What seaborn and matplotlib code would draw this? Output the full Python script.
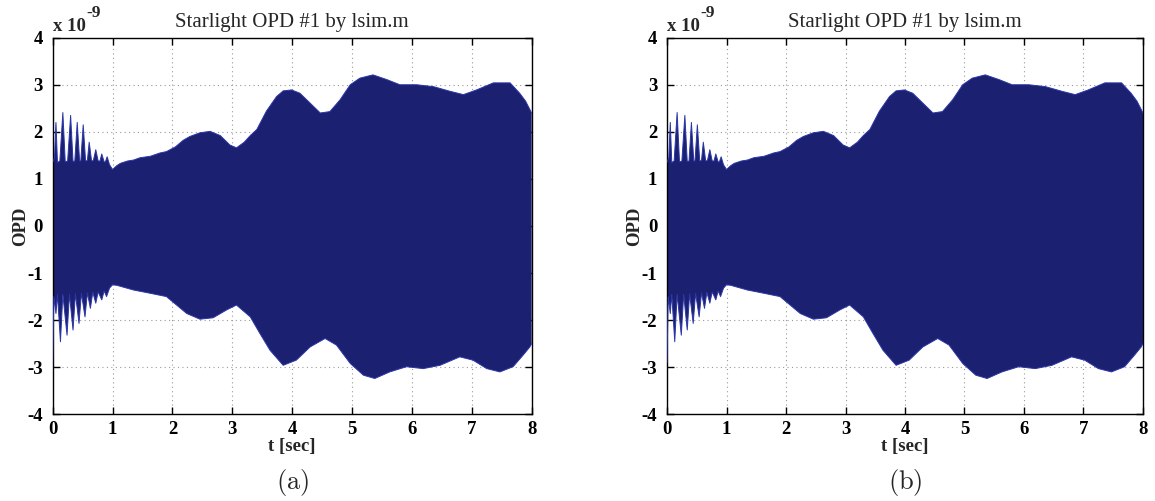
import numpy as np
import matplotlib
matplotlib.use("Agg")
import matplotlib.pyplot as plt
import seaborn as sns

# Envelope of the simulated starlight OPD response (units of 1e-9)
t_upper = [0.00, 0.03, 0.055, 0.08, 0.12, 0.17, 0.21, 0.25, 0.30, 0.34, 0.37, 0.41,
           0.45, 0.47, 0.51, 0.55, 0.58, 0.61, 0.65, 0.68, 0.72, 0.76, 0.79, 0.82,
           0.86, 0.88, 0.91, 0.95, 1.00, 1.07, 1.13, 1.25, 1.35, 1.46, 1.63, 1.79,
           1.90, 2.05, 2.18, 2.29, 2.46, 2.63, 2.80, 2.96, 3.07, 3.20, 3.30, 3.41,
           3.57, 3.74, 3.85, 3.99, 4.13, 4.30, 4.47, 4.63, 4.80, 4.97, 5.13, 5.35,
           5.58, 5.80, 6.08, 6.36, 6.64, 6.86, 7.08, 7.36, 7.64, 7.80, 7.90, 8.00]
opd_upper = [1.35, 1.45, 2.20, 1.35, 1.38, 2.41, 1.36, 1.38, 2.35, 1.37, 1.38, 2.20,
             1.38, 1.38, 2.15, 1.38, 1.39, 1.78, 1.38, 1.39, 1.62, 1.38, 1.38, 1.53,
             1.36, 1.36, 1.47, 1.30, 1.20, 1.28, 1.33, 1.38, 1.40, 1.45, 1.48, 1.55,
             1.58, 1.68, 1.82, 1.90, 1.98, 2.01, 1.92, 1.72, 1.66, 1.78, 1.92, 2.05,
             2.44, 2.75, 2.87, 2.89, 2.82, 2.61, 2.40, 2.43, 2.68, 3.00, 3.14, 3.21,
             3.11, 3.00, 3.00, 2.96, 2.86, 2.79, 2.89, 3.04, 3.04, 2.82, 2.65, 2.40]

t_lower = [0.00, 0.02, 0.055, 0.08, 0.13, 0.17, 0.24, 0.28, 0.34, 0.38, 0.44, 0.48,
           0.54, 0.58, 0.63, 0.67, 0.72, 0.76, 0.82, 0.86, 0.90, 0.95, 1.00, 1.07,
           1.35, 1.63, 1.90, 2.07, 2.24, 2.46, 2.68, 2.91, 3.07, 3.30, 3.46, 3.63,
           3.85, 4.07, 4.30, 4.55, 4.74, 4.97, 5.19, 5.38, 5.63, 5.91, 6.19, 6.47,
           6.80, 7.02, 7.25, 7.47, 7.69, 7.86, 7.97, 8.00]
opd_lower = [-2.90, -1.50, -1.86, -1.45, -2.46, -1.45, -2.32, -1.45, -2.21, -1.44, -2.07, -1.43,
             -1.93, -1.42, -1.75, -1.41, -1.64, -1.40, -1.57, -1.38, -1.50, -1.32, -1.25, -1.26,
             -1.36, -1.43, -1.50, -1.68, -1.86, -1.98, -1.95, -1.78, -1.68, -1.93, -2.28, -2.64,
             -2.96, -2.85, -2.57, -2.39, -2.53, -2.92, -3.17, -3.24, -3.10, -2.99, -3.03, -2.96,
             -2.78, -2.85, -3.03, -3.10, -2.99, -2.74, -2.57, -2.50]

x_ticks = [0, 1, 2, 3, 4, 5, 6, 7, 8]
y_ticks = [-4, -3, -2, -1, 0, 1, 2, 3, 4]
panel_labels = ["(a)", "(b)"]
title_text = "Starlight OPD #1 by lsim.m"

sns.set_theme(style="ticks")
plt.rcParams["font.family"] = ["Liberation Serif", "DejaVu Serif"]
plt.rcParams["mathtext.fontset"] = "cm"

fill_color = "#1c2070"
edge_color = "#2b36a8"

fig = plt.figure(figsize=(11.55, 5.01), dpi=100)
axes = [fig.add_axes([0.0456, 0.1731, 0.4147, 0.7517]),
        fig.add_axes([0.5775, 0.1731, 0.4121, 0.7517])]

poly_t = np.r_[t_upper, t_lower[::-1]]
poly_v = np.r_[opd_upper, opd_lower[::-1]]

for ax, label in zip(axes, panel_labels):
    ax.fill(poly_t, poly_v, color=fill_color, lw=0, zorder=2)
    sns.lineplot(x=t_upper, y=opd_upper, ax=ax, color=edge_color, lw=0.7,
                 estimator=None, sort=False, zorder=3)
    sns.lineplot(x=t_lower, y=opd_lower, ax=ax, color=edge_color, lw=0.7,
                 estimator=None, sort=False, zorder=3)

    ax.set_xlim(0, 8)
    ax.set_ylim(-4, 4)
    ax.set_xticks(x_ticks)
    ax.set_yticks(y_ticks)
    ax.set_xticklabels([str(v) for v in x_ticks], fontsize=13.5, fontweight="bold")
    ax.set_yticklabels([str(v) for v in y_ticks], fontsize=13.5, fontweight="bold")
    ax.tick_params(direction="in", length=5, width=1, top=True, right=True,
                   colors="black")
    ax.tick_params(axis="x", pad=5)
    ax.tick_params(axis="y", pad=7)
    ax.grid(True, color="#9a9a9a", linestyle=(0, (1, 3)), linewidth=0.8, zorder=1)
    ax.set_axisbelow(True)
    for sp in ax.spines.values():
        sp.set_visible(True)
        sp.set_color("black")
        sp.set_linewidth(1.0)

    ax.set_title(title_text, fontsize=15, pad=8)
    ax.set_xlabel("t [sec]", fontsize=13.5, fontweight="bold", labelpad=0)
    ax.set_ylabel("OPD", fontsize=13.5, fontweight="bold", labelpad=-1)

    # multiplier shown above the y axis
    ax.text(0.0, 1.008, "x 10", transform=ax.transAxes, fontsize=13.5,
            fontweight="bold", ha="left", va="bottom")
    ax.text(0.071, 1.045, "-9", transform=ax.transAxes, fontsize=12.5,
            fontweight="bold", ha="left", va="bottom")

    ax.text(0.5, -0.182, r"$\mathrm{" + label + "}$", transform=ax.transAxes,
            fontsize=19, ha="center", va="center")

fig.savefig("out.png", dpi=100, facecolor="white")
